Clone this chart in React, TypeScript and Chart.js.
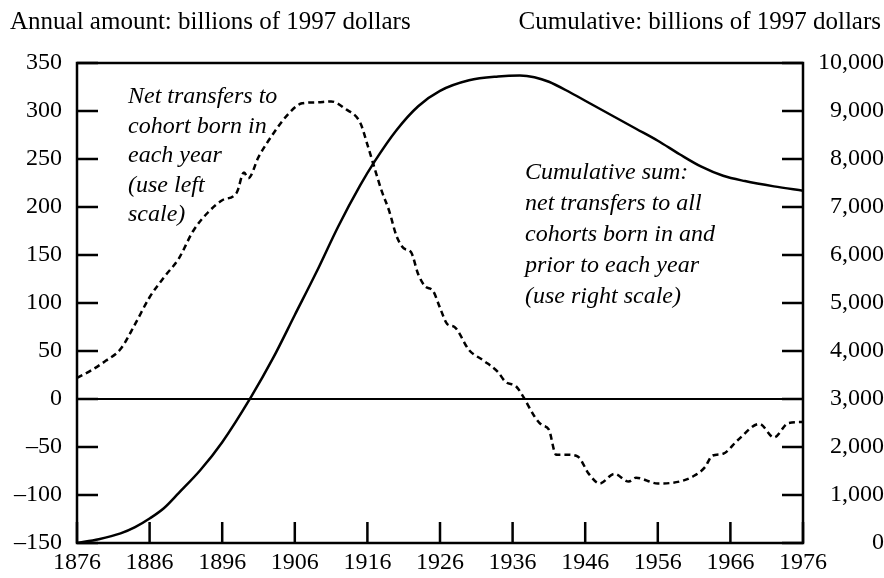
import React, { useEffect, useRef } from "react";
import { Chart, registerables } from "chart.js";

Chart.register(...registerables);

// Annual net transfers to cohort born in each year (left scale, billions of 1997 dollars)
const netYears = [1876, 1878, 1880, 1882, 1884, 1886, 1888, 1890, 1892, 1894, 1896, 1898, 1899, 1899.6, 1901, 1903, 1905, 1907, 1909, 1911, 1913, 1915, 1916, 1917, 1918, 1919, 1920, 1921, 1922, 1923, 1924, 1925, 1926, 1927, 1928, 1930, 1932, 1934, 1935, 1936.5, 1937.5, 1939, 1940, 1941, 1942, 1943.5, 1945, 1946.5, 1948, 1950, 1952, 1953, 1956, 1959, 1961, 1962.5, 1963.5, 1965, 1967, 1970, 1972, 1974, 1976];
const netValues = [22, 30, 40, 52, 78, 106, 127, 146, 175, 194, 207, 215, 236, 230, 252, 276, 296, 308, 309, 310, 302, 288, 265, 240, 216, 196, 170, 157, 153, 130, 117, 113, 95, 78, 75, 51, 40, 28, 18, 13, 2, -18, -27, -32, -58, -58, -60, -78, -88, -78, -86, -82, -88, -86, -80, -71, -59, -57, -43, -26, -40, -25, -24];

// Cumulative sum (right scale)
const cumYears = [1876, 1879, 1882, 1884, 1886, 1888, 1890, 1893, 1896, 1900, 1903, 1906, 1909, 1912, 1915, 1917, 1920, 1923, 1926, 1930, 1934, 1937, 1939, 1941, 1944, 1947, 1950, 1953, 1956, 1959, 1962, 1965, 1968, 1972, 1976];
const cumValues = [0, 80, 200, 330, 510, 730, 1040, 1520, 2100, 3050, 3850, 4750, 5650, 6600, 7450, 7950, 8600, 9100, 9420, 9640, 9720, 9740, 9705, 9610, 9380, 9130, 8880, 8630, 8380, 8100, 7840, 7650, 7540, 7430, 7340];

const leftTitle = "Annual amount: billions of 1997 dollars";
const rightTitle = "Cumulative: billions of 1997 dollars";
const leftNote = ["Net transfers to", "cohort born in", "each year", "(use left", "scale)"];
const rightNote = ["Cumulative sum:", "net transfers to all", "cohorts born in and", "prior to each year", "(use right scale)"];

const SERIF = "'Liberation Serif', 'DejaVu Serif', serif";

const framePlugin = {
  id: "frame",
  afterDraw(chart: any) {
    const { ctx, chartArea } = chart;
    const { left, right, top, bottom } = chartArea;
    const xs = chart.scales.x;
    const yl = chart.scales.y;
    const yr = chart.scales.y2;
    ctx.save();
    ctx.strokeStyle = "#000";
    ctx.lineWidth = 2.5;
    ctx.strokeRect(left, top, right - left, bottom - top);
    const tl = 21;
    ctx.beginPath();
    yl.ticks.forEach((t: any) => {
      const y = yl.getPixelForValue(t.value);
      ctx.moveTo(left, y);
      ctx.lineTo(left + tl, y);
    });
    yr.ticks.forEach((t: any) => {
      const y = yr.getPixelForValue(t.value);
      ctx.moveTo(right, y);
      ctx.lineTo(right - tl, y);
    });
    xs.ticks.forEach((t: any) => {
      const x = xs.getPixelForValue(t.value);
      ctx.moveTo(x, bottom);
      ctx.lineTo(x, bottom - tl);
    });
    ctx.stroke();
    // zero line
    ctx.lineWidth = 2;
    const y0 = yl.getPixelForValue(0);
    ctx.beginPath();
    ctx.moveTo(left, y0);
    ctx.lineTo(right, y0);
    ctx.stroke();

    ctx.fillStyle = "#000";
    ctx.textBaseline = "middle";
    ctx.font = `25px ${SERIF}`;
    ctx.textAlign = "left";
    ctx.fillText(leftTitle, 10, 22);
    ctx.textAlign = "right";
    ctx.fillText(rightTitle, 881, 22);

    ctx.font = `italic 24px ${SERIF}`;
    ctx.textAlign = "left";
    leftNote.forEach((s, i) => ctx.fillText(s, 128, 97 + i * 29.5));
    rightNote.forEach((s, i) => ctx.fillText(s, 525, 173 + i * 30.8));
    ctx.restore();
  },
};

export default function App() {
  const ref = useRef<HTMLCanvasElement>(null);
  useEffect(() => {
    const chart = new Chart(ref.current as HTMLCanvasElement, {
      type: "line",
      data: {
        datasets: [
          {
            label: "Net transfers",
            data: netYears.map((x, i) => ({ x, y: netValues[i] })),
            yAxisID: "y",
            borderColor: "#000",
            borderWidth: 2.5,
            borderDash: [6, 4],
            pointRadius: 0,
            cubicInterpolationMode: "monotone",
            fill: false,
          },
          {
            label: "Cumulative",
            data: cumYears.map((x, i) => ({ x, y: cumValues[i] })),
            yAxisID: "y2",
            borderColor: "#000",
            borderWidth: 2.5,
            pointRadius: 0,
            cubicInterpolationMode: "monotone",
            fill: false,
          },
        ],
      },
      options: {
        responsive: false,
        animation: false,
        layout: { padding: { top: 63, left: 0, right: 0, bottom: 0 } },
        plugins: { legend: { display: false }, tooltip: { enabled: false } },
        scales: {
          x: {
            type: "linear",
            min: 1876,
            max: 1976,
            afterFit: (s: any) => { s.height = 35; },
            grid: { display: false, drawTicks: false },
            border: { display: false },
            ticks: {
              stepSize: 10,
              padding: 5,
              color: "#000",
              font: { family: SERIF, size: 24 },
              callback: (v: any) => String(v),
              maxRotation: 0,
            },
          },
          y: {
            type: "linear",
            position: "left",
            min: -150,
            max: 350,
            afterFit: (s: any) => { s.width = 77; },
            grid: { display: false, drawTicks: false },
            border: { display: false },
            ticks: {
              stepSize: 50,
              padding: 15,
              color: "#000",
              font: { family: SERIF, size: 24 },
              callback: (v: any) => (v < 0 ? "\u2013" + Math.abs(v) : String(v)),
            },
          },
          y2: {
            type: "linear",
            position: "right",
            min: 0,
            max: 10000,
            afterFit: (s: any) => { s.width = 81; },
            grid: { display: false, drawTicks: false },
            border: { display: false },
            ticks: {
              stepSize: 1000,
              padding: 4,
              crossAlign: "far",
              color: "#000",
              font: { family: SERIF, size: 24 },
              callback: (v: any) => Number(v).toLocaleString("en-US"),
            },
          },
        },
      },
      plugins: [framePlugin],
    } as any);
    return () => chart.destroy();
  }, []);
  return (
    <div style={{ position: "absolute", left: 0, top: 0, width: 884, height: 578, background: "#fff" }}>
      <canvas ref={ref} width={884} height={578} />
    </div>
  );
}
